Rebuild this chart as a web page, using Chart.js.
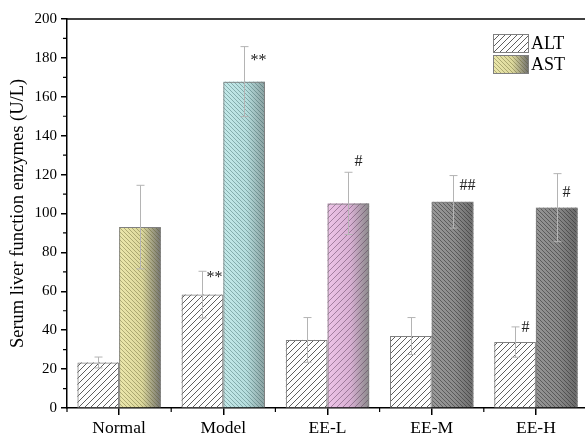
<!DOCTYPE html>
<html>
<head>
<meta charset="utf-8">
<script src="https://cdn.jsdelivr.net/npm/chart.js@4/dist/chart.umd.min.js"></script>
<style>
  html, body { margin: 0; padding: 0; overflow: hidden; background: #fff; }
  #wrap { width: 588px; height: 435px; }
</style>
</head>
<body>
<div id="wrap"><canvas id="c" width="588" height="435"></canvas></div>
<script>
// Groups and measured serum enzyme levels (mean ± SD, U/L)
const groups = ['Normal', 'Model', 'EE-L', 'EE-M', 'EE-H'];
const seriesNames = ['ALT', 'AST'];
const altMean = [23.4, 58.3, 35.0, 37.0, 33.9];
const altSD   = [2.8, 12.0, 11.5, 9.5, 7.8];
const astMean = [93.0, 167.8, 105.2, 106.0, 103.0];
const astSD   = [21.5, 18.0, 16.0, 13.5, 17.5];
// Significance markers (** vs Normal, # / ## vs Model)
const altMarks = ['', '**', '', '', '#'];
const astMarks = ['', '**', '#', '##', '#'];
const yMin = 0, yMax = 200, yStep = 20;

const SERIF = '"Liberation Serif", "Times New Roman", serif';

// Fill styles for the AST bars: horizontal gradient plus hatching
const astStyle = [
  { c0: '#ece8ac', c1: '#dcd89c', c2: '#737370', hatch: 'rgba(90,88,40,0.4)', dir: 'back', gap: 4 },
  { c0: '#c3e9e9', c1: '#b6dede', c2: '#8aa0a0', hatch: 'rgba(50,90,90,0.4)', dir: 'back', gap: 4 },
  { c0: '#eec4e8', c1: '#d8b0d3', c2: '#8a8a8a', hatch: 'rgba(80,50,80,0.45)', dir: 'fwd', gap: 6 },
  { c0: '#999999', c1: '#8c8c8c', c2: '#6c6c6c', hatch: 'rgba(40,40,40,0.5)', dir: 'back', gap: 4 },
  { c0: '#959595', c1: '#888888', c2: '#686868', hatch: 'rgba(40,40,40,0.5)', dir: 'back', gap: 4 }
];
const altStyle = { base: '#ffffff', hatch: '#606060', dir: 'fwd', gap: 6 };
// Pixel shifts of the marker text relative to the top of its error bar
const altMarkShift = [[0, 0], [4, 7], [0, 0], [0, 0], [6, 1]];
const astMarkShift = [[0, 0], [6, 14], [6, -10], [6, 10], [5, 19]];

function hatchPattern(ctx, color, dir, gap) {
  const c = document.createElement('canvas');
  c.width = gap; c.height = gap;
  const g = c.getContext('2d');
  g.strokeStyle = color;
  g.lineWidth = 1;
  g.beginPath();
  for (let k = -1; k <= 1; k++) {
    if (dir === 'fwd') { g.moveTo(k * gap, gap); g.lineTo(k * gap + gap, 0); }
    else { g.moveTo(k * gap, 0); g.lineTo(k * gap + gap, gap); }
  }
  g.stroke();
  return ctx.createPattern(c, 'repeat');
}

function fillBarRect(ctx, left, top, w, h, series, i) {
  if (h <= 0) return;
  if (series === 0) {
    ctx.fillStyle = altStyle.base;
    ctx.fillRect(left, top, w, h);
    ctx.fillStyle = hatchPattern(ctx, altStyle.hatch, altStyle.dir, altStyle.gap);
    ctx.fillRect(left, top, w, h);
  } else {
    const s = astStyle[i];
    const gr = ctx.createLinearGradient(left, 0, left + w, 0);
    gr.addColorStop(0, s.c0);
    gr.addColorStop(0.55, s.c1);
    gr.addColorStop(1, s.c2);
    ctx.fillStyle = gr;
    ctx.fillRect(left, top, w, h);
    ctx.fillStyle = hatchPattern(ctx, s.hatch, s.dir, s.gap);
    ctx.fillRect(left, top, w, h);
  }
}

// Gradient + hatch fills underneath the library-drawn bar outlines
const barFill = {
  id: 'barFill',
  beforeDatasetsDraw(chart) {
    const ctx = chart.ctx;
    ctx.save();
    chart.data.datasets.forEach((ds, si) => {
      chart.getDatasetMeta(si).data.forEach((bar, i) => {
        const p = bar.getProps(['x', 'y', 'base', 'width'], true);
        const left = p.x - p.width / 2;
        const top = Math.min(p.y, p.base);
        fillBarRect(ctx, left, top, p.width, Math.abs(p.base - p.y), si, i);
      });
    });
    ctx.restore();
  }
};

// Error bars, significance markers, minor ticks, frame line and legend
const extras = {
  id: 'extras',
  afterDatasetsDraw(chart) {
    const ctx = chart.ctx;
    const ys = chart.scales.y;
    const means = [altMean, astMean];
    const sds = [altSD, astSD];
    const marks = [altMarks, astMarks];
    const shifts = [altMarkShift, astMarkShift];
    ctx.save();
    ctx.strokeStyle = '#b4b4b4';
    ctx.lineWidth = 1;
    chart.data.datasets.forEach((ds, si) => {
      chart.getDatasetMeta(si).data.forEach((bar, i) => {
        const x = Math.round(bar.x) + 0.5;
        const yT = ys.getPixelForValue(means[si][i] + sds[si][i]);
        const yB = ys.getPixelForValue(means[si][i] - sds[si][i]);
        ctx.beginPath();
        ctx.moveTo(x, yT); ctx.lineTo(x, yB);
        ctx.moveTo(x - 4, yT); ctx.lineTo(x + 4, yT);
        ctx.moveTo(x - 4, yB); ctx.lineTo(x + 4, yB);
        ctx.stroke();
        const m = marks[si][i];
        if (m) {
          ctx.fillStyle = '#222';
          ctx.font = '16px ' + SERIF;
          ctx.textAlign = 'left';
          ctx.textBaseline = 'middle';
          ctx.fillText(m, x + shifts[si][i][0], yT + shifts[si][i][1]);
        }
      });
    });
    ctx.restore();
  },
  afterDraw(chart) {
    const ctx = chart.ctx;
    const a = chart.chartArea;
    const ys = chart.scales.y, xs = chart.scales.x;
    ctx.save();
    ctx.strokeStyle = '#000';
    ctx.lineWidth = 1.5;
    // top frame
    ctx.beginPath();
    ctx.moveTo(a.left, a.top); ctx.lineTo(a.right, a.top);
    ctx.stroke();
    // minor y ticks
    ctx.lineWidth = 1.2;
    ctx.beginPath();
    for (let v = yMin + yStep / 2; v < yMax; v += yStep) {
      const y = ys.getPixelForValue(v);
      ctx.moveTo(a.left - 4, y); ctx.lineTo(a.left, y);
    }
    // minor x ticks between groups
    for (let k = 0; k <= groups.length; k++) {
      const x = xs.getPixelForValue(k - 0.5);
      ctx.moveTo(x, a.bottom); ctx.lineTo(x, a.bottom + 4);
    }
    ctx.stroke();

    // legend
    const lx = 493, ly = 34, bw = 35, bh = 18, gapY = 21;
    seriesNames.forEach((name, si) => {
      const top = ly + si * gapY;
      fillBarRect(ctx, lx, top, bw, bh, si, 0);
      ctx.strokeStyle = '#808080';
      ctx.lineWidth = 1;
      ctx.strokeRect(lx + 0.5, top + 0.5, bw, bh);
      ctx.fillStyle = '#000';
      ctx.font = '18px ' + SERIF;
      ctx.textAlign = 'left';
      ctx.textBaseline = 'middle';
      ctx.fillText(name, lx + bw + 3, top + bh / 2 + 1);
    });
    ctx.restore();
  }
};

const outline = {
  backgroundColor: 'rgba(0,0,0,0)',
  borderColor: '#808080',
  borderWidth: 1,
  borderSkipped: 'start',
  categoryPercentage: 0.8,
  barPercentage: 1.0
};

new Chart(document.getElementById('c'), {
  type: 'bar',
  data: {
    labels: groups,
    datasets: [
      Object.assign({ label: seriesNames[0], data: altMean }, outline),
      Object.assign({ label: seriesNames[1], data: astMean }, outline)
    ]
  },
  options: {
    responsive: false,
    animation: false,
    devicePixelRatio: 1,
    layout: { padding: { top: 19, right: 0, left: 0, bottom: 0 } },
    plugins: { legend: { display: false }, tooltip: { enabled: false }, colors: { enabled: false } },
    scales: {
      x: {
        offset: true,
        grid: { offset: false, drawOnChartArea: false, drawTicks: true, tickLength: 7, color: '#000', lineWidth: 1.5 },
        border: { display: true, color: '#000', width: 1.5 },
        ticks: { color: '#000', font: { family: SERIF, size: 17.5 }, padding: 3, maxRotation: 0 },
        afterFit(scale) { scale.height = 27; }
      },
      y: {
        min: yMin, max: yMax,
        grid: { drawOnChartArea: false, drawTicks: true, tickLength: 6, color: '#000', lineWidth: 1.5 },
        border: { display: true, color: '#000', width: 1.5 },
        ticks: { stepSize: yStep, color: '#000', font: { family: SERIF, size: 15 }, padding: 4 },
        title: {
          display: true,
          text: 'Serum liver function enzymes (U/L)',
          color: '#000',
          font: { family: SERIF, size: 18.5 },
          padding: { top: 7, bottom: 0 }
        },
        afterFit(scale) { scale.width = 67; }
      }
    }
  },
  plugins: [barFill, extras]
});
</script>
</body>
</html>
